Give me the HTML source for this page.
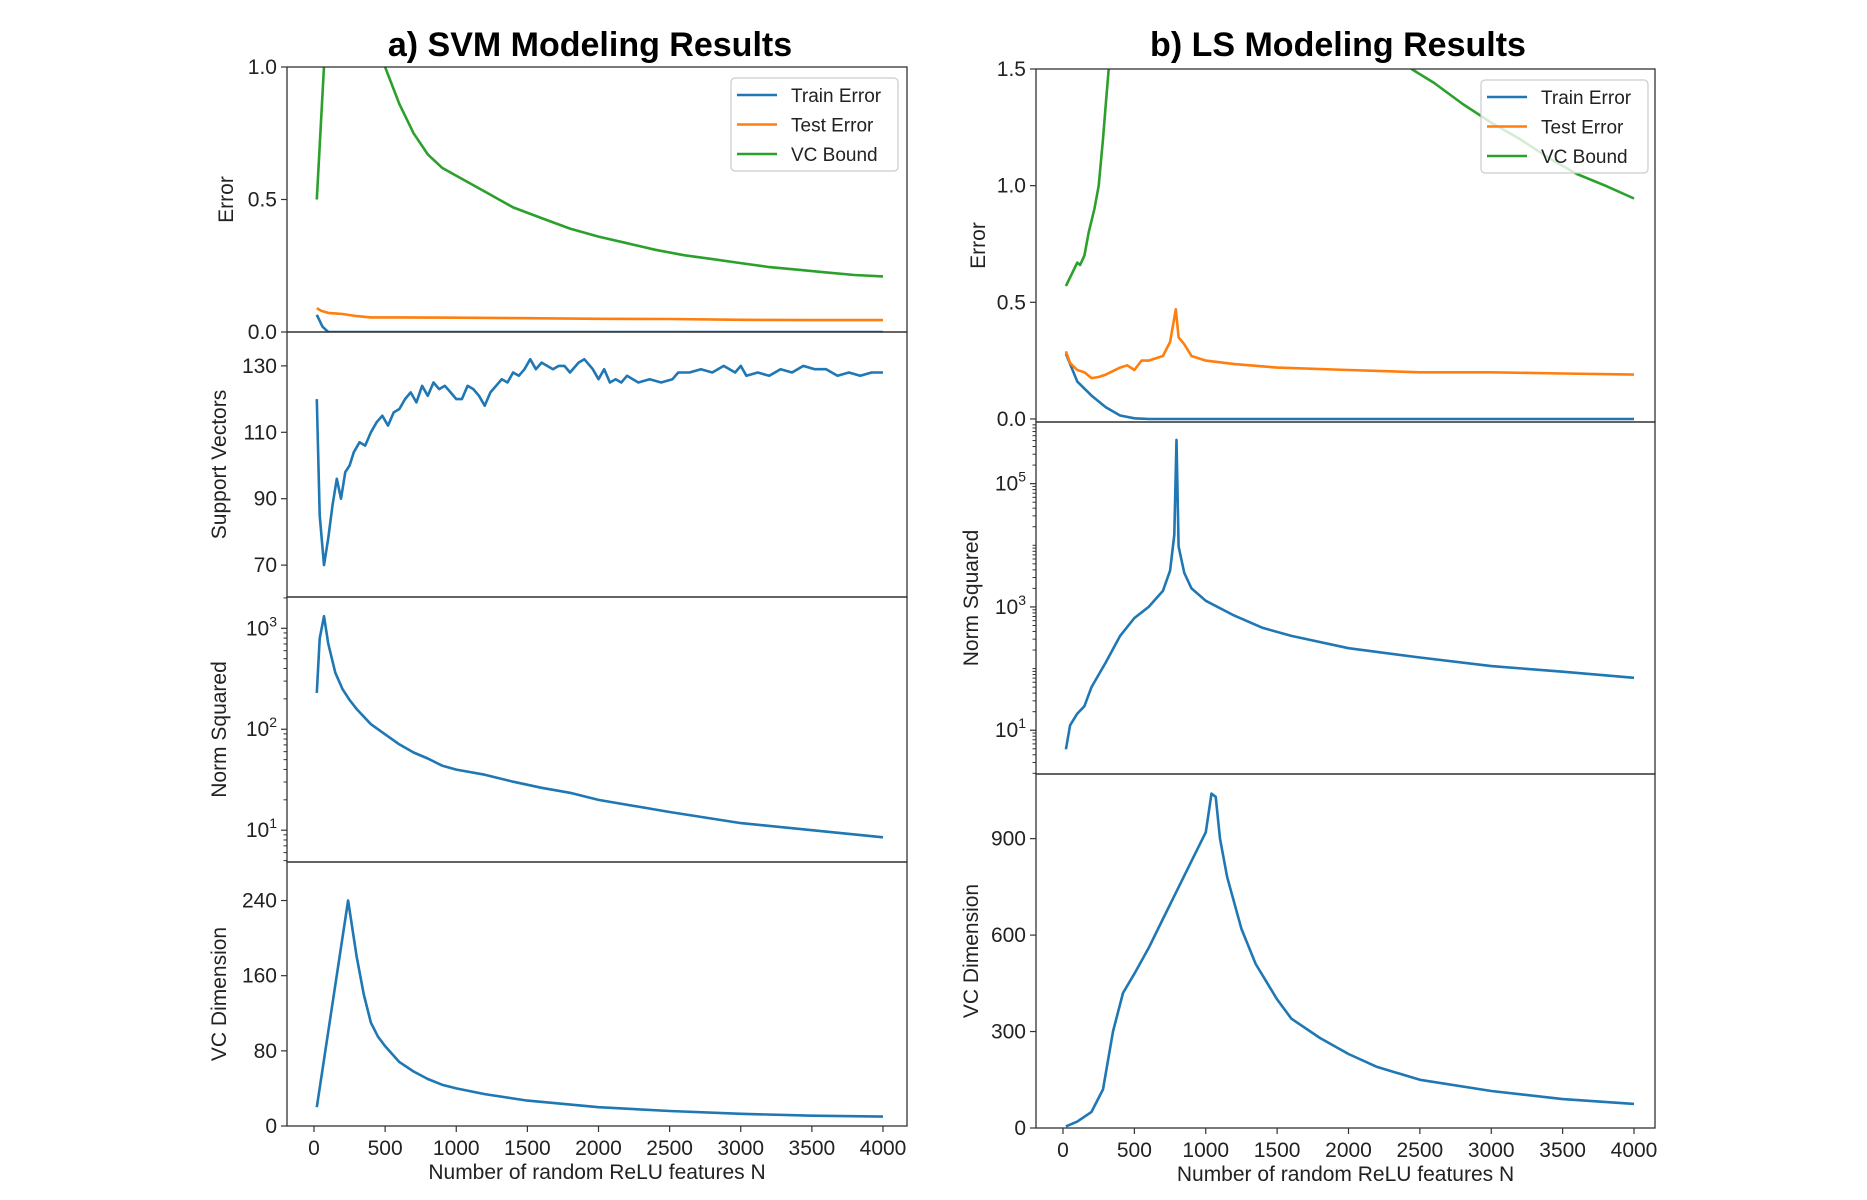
<!DOCTYPE html>
<html><head><meta charset="utf-8"><style>
html,body{margin:0;padding:0;background:#fff;}
svg{display:block;font-family:"Liberation Sans","DejaVu Sans",sans-serif;}
</style></head><body>
<svg id="fig" width="1867" height="1200" viewBox="0 0 1867 1200" xmlns="http://www.w3.org/2000/svg">
<text x="590" y="56" font-size="34" font-weight="bold" text-anchor="middle">a) SVM Modeling Results</text>
<text x="1338" y="56" font-size="34" font-weight="bold" text-anchor="middle">b) LS Modeling Results</text>
</svg>
<script>
// ---------- data ----------
const svmVcBoundN = [20,80,480,500,600,700,800,900,1000,1200,1400,1600,1800,2000,2200,2400,2600,2800,3000,3200,3400,3600,3800,4000];
const svmVcBound = [0.5,1.1,1.05,1.0,0.86,0.75,0.67,0.62,0.59,0.53,0.47,0.43,0.39,0.36,0.335,0.31,0.29,0.275,0.26,0.245,0.235,0.225,0.215,0.21];
const svmTestN = [20,50,100,150,200,300,400,600,1000,1500,2000,2500,3000,3500,4000];
const svmTest = [0.09,0.08,0.072,0.07,0.068,0.06,0.055,0.055,0.054,0.052,0.05,0.049,0.046,0.045,0.045];
const svmTrainN = [20,60,100,4000];
const svmTrain = [0.065,0.02,0.0,0.0];
const svmSvN = [20,40,70,100,130,160,190,220,250,280,320,360,400,440,480,520,560,600,640,680,720,760,800,840,880,920,960,1000,1040,1080,1120,1160,1200,1240,1280,1320,1360,1400,1440,1480,1520,1560,1600,1680,1720,1760,1800,1860,1900,1960,2000,2040,2080,2120,2160,2200,2280,2360,2440,2520,2560,2640,2720,2800,2880,2960,3000,3040,3120,3200,3280,3360,3440,3520,3600,3680,3760,3840,3920,4000];
const svmSv = [120,85,70,78,88,96,90,98,100,104,107,106,110,113,115,112,116,117,120,122,119,124,121,125,123,124,122,120,120,124,123,121,118,122,124,126,125,128,127,129,132,129,131,129,130,130,128,131,132,129,126,129,125,126,125,127,125,126,125,126,128,128,129,128,130,128,130,127,128,127,129,128,130,129,129,127,128,127,128,128];
const svmNormN = [20,40,70,100,150,200,250,300,400,500,600,700,800,900,1000,1200,1400,1600,1800,2000,2500,3000,3500,4000];
const svmNormLog = [2.36,2.9,3.12,2.85,2.56,2.4,2.29,2.2,2.05,1.95,1.85,1.77,1.71,1.64,1.6,1.55,1.48,1.42,1.37,1.3,1.18,1.07,1.0,0.93];
const svmVcN = [20,240,300,350,400,450,500,600,700,800,900,1000,1200,1500,2000,2500,3000,3500,4000];
const svmVc = [20,240,180,140,110,95,85,68,58,50,44,40,34,27,20,16,13,11,10];

const lsVcBoundN = [20,60,100,120,150,180,220,250,280,300,320,340,2300,2441,2600,2800,3000,3200,3400,3600,3800,4000];
const lsVcBound = [0.57,0.62,0.67,0.66,0.7,0.8,0.9,1.0,1.2,1.35,1.5,1.7,1.6,1.5,1.44,1.35,1.27,1.2,1.12,1.05,1.0,0.945];
const lsTestN = [20,50,100,150,200,250,300,400,450,500,550,600,700,750,790,810,850,900,1000,1200,1500,2000,2500,3000,3500,4000];
const lsTest = [0.29,0.24,0.21,0.2,0.175,0.18,0.19,0.22,0.23,0.21,0.25,0.25,0.27,0.33,0.47,0.35,0.32,0.27,0.25,0.235,0.22,0.21,0.2,0.2,0.195,0.19];
const lsTrainN = [20,100,200,300,400,500,600,4000];
const lsTrain = [0.28,0.16,0.1,0.05,0.015,0.003,0.0,0.0];
const lsNormN = [20,50,100,150,200,300,400,500,600,700,750,780,795,810,850,900,1000,1200,1400,1600,2000,2500,3000,3500,4000];
const lsNormLog = [0.69,1.08,1.27,1.39,1.7,2.1,2.53,2.82,3.0,3.26,3.59,4.17,5.71,3.98,3.55,3.3,3.1,2.86,2.66,2.53,2.33,2.18,2.04,1.95,1.85];
const lsVcN = [20,100,200,280,350,420,500,600,700,800,900,1000,1040,1070,1100,1150,1250,1350,1500,1600,1800,2000,2200,2500,3000,3500,4000];
const lsVc = [5,20,50,120,300,420,480,560,650,740,830,920,1040,1030,900,780,620,510,400,340,280,230,190,150,115,90,75];

const xTicks = [0,500,1000,1500,2000,2500,3000,3500,4000];

// ---------- helpers ----------
const NS = 'http://www.w3.org/2000/svg';
const svg = document.getElementById('fig');
const BLUE='#1f77b4', ORANGE='#ff7f0e', GREEN='#2ca02c';
function mk(tag, attrs, parent){const e=document.createElementNS(NS,tag);for(const k in attrs)e.setAttribute(k,attrs[k]);(parent||svg).appendChild(e);return e;}
let clipId=0;
function panel(opt){
  const g=mk('g',{});
  
  
  const L=opt.x0,R=opt.x1,T=opt.y0,B=opt.y1;
  const xs=v=>opt.px0+v/4000*(opt.px4000-opt.px0);
  const ys=v=>B-(v-opt.ymin)/(opt.ymax-opt.ymin)*(B-T);
  const id='c'+(clipId++);
  const cp=mk('clipPath',{id:id},g); mk('rect',{x:L,y:T,width:R-L,height:B-T},cp);
  opt.series.forEach(s=>{
    let d='';
    s.x.forEach((xv,i)=>{d+=(i?'L':'M')+xs(xv).toFixed(1)+','+ys(s.y[i]).toFixed(1);});
    const p=mk('path',{d:d,fill:'none',stroke:s.c,'stroke-width':2.6,'stroke-linejoin':'round','clip-path':'url(#'+id+')'},g);
    
    
  });
  const fr=mk('rect',{x:L,y:T,width:R-L,height:B-T,fill:'none',stroke:'#333','stroke-width':1.3},g);
  
  
  opt.yt.forEach(t=>{
    const y=ys(t.v);
    mk('line',{x1:L-6,x2:L,y1:y,y2:y,stroke:'#333','stroke-width':1.2},g);
    const tx=mk('text',{x:L-10,y:y+7,'font-size':21,'text-anchor':'end',fill:'#222'},g);
    
    
    if(t.e!==undefined){tx.textContent='10';const sp=mk('tspan',{dy:-9,'font-size':14},tx);sp.textContent=t.e;}
    else tx.textContent=t.l;
  });
  if(opt.minor){opt.minor.forEach(v=>{const y=ys(v);if(y>T&&y<B)mk('line',{x1:L-3.5,x2:L,y1:y,y2:y,stroke:'#333','stroke-width':1},g);});}
  if(opt.xt){
    xTicks.forEach(v=>{const x=xs(v);mk('line',{x1:x,x2:x,y1:B,y2:B+6,stroke:'#333','stroke-width':1.2},g);
      const tx=mk('text',{x:x,y:B+29,'font-size':21,'text-anchor':'middle',fill:'#222'},g);
      
      
      tx.textContent=v;});
    const xl=mk('text',{x:(L+R)/2,y:B+53,'font-size':21,'text-anchor':'middle',fill:'#222'},g);
    
    
    xl.textContent='Number of random ReLU features N';
  }
  const yl=mk('text',{x:0,y:0,'font-size':21,'text-anchor':'middle',fill:'#222',transform:'translate('+opt.ylx+','+(T+B)/2+') rotate(-90)'},g);
  
  
  yl.textContent=opt.ylabel;
  return g;
}
function minorLog(a,b){const r=[];for(let e=a;e<=b;e++)for(let k=2;k<=9;k++)r.push(e+Math.log10(k));return r;}
function legend(x,y,name){
  const g=mk('g',{});
  
  
  mk('rect',{x:x,y:y,width:167,height:93,rx:4,fill:'rgba(255,255,255,0.8)',stroke:'#ccc','stroke-width':1.2},g);
  [['Train Error',BLUE],['Test Error',ORANGE],['VC Bound',GREEN]].forEach((e,i)=>{
    const yy=y+17+i*29.5;
    mk('line',{x1:x+6,x2:x+46,y1:yy,y2:yy,stroke:e[1],'stroke-width':2.6},g);
    const t=mk('text',{x:x+60,y:yy+7,'font-size':19,fill:'#222'},g);
    
    
    t.textContent=e[0];
  });
}
// ---------- left column ----------
const LX0=287,LX1=907, LP0=314, LP4=883;
panel({name:'svm-error-panel',x0:LX0,x1:LX1,px0:LP0,px4000:LP4,y0:67,y1:332,ymin:0,ymax:1,ylx:233,ylabel:'Error',
  yt:[{v:0,l:'0.0'},{v:0.5,l:'0.5'},{v:1,l:'1.0'}],
  series:[{x:svmTrainN,y:svmTrain,c:BLUE,n:'svm-train-error-line'},{x:svmTestN,y:svmTest,c:ORANGE,n:'svm-test-error-line'},{x:svmVcBoundN,y:svmVcBound,c:GREEN,n:'svm-vc-bound-line'}]});
panel({name:'svm-support-vectors-panel',x0:LX0,x1:LX1,px0:LP0,px4000:LP4,y0:332,y1:597,ymin:60.4,ymax:140.2,ylx:226,ylabel:'Support Vectors',
  yt:[{v:70,l:'70'},{v:90,l:'90'},{v:110,l:'110'},{v:130,l:'130'}],
  series:[{x:svmSvN,y:svmSv,c:BLUE,n:'svm-support-vectors-line'}]});
panel({name:'svm-norm-panel',x0:LX0,x1:LX1,px0:LP0,px4000:LP4,y0:597,y1:862,ymin:0.685,ymax:3.31,ylx:226,ylabel:'Norm Squared',
  yt:[{v:1,e:'1'},{v:2,e:'2'},{v:3,e:'3'}],minor:minorLog(0,3),
  series:[{x:svmNormN,y:svmNormLog,c:BLUE,n:'svm-norm-line'}]});
panel({name:'svm-vc-dimension-panel',x0:LX0,x1:LX1,px0:LP0,px4000:LP4,y0:862,y1:1126,ymin:0,ymax:281,ylx:226,ylabel:'VC Dimension',xt:true,
  yt:[{v:0,l:'0'},{v:80,l:'80'},{v:160,l:'160'},{v:240,l:'240'}],
  series:[{x:svmVcN,y:svmVc,c:BLUE,n:'svm-vc-dimension-line'}]});
legend(731,78,'svm-legend');
// ---------- right column ----------
const RX0=1036,RX1=1655, RP0=1063, RP4=1634;
panel({name:'ls-error-panel',x0:RX0,x1:RX1,px0:RP0,px4000:RP4,y0:69,y1:422,ymin:-0.013,ymax:1.5,ylx:985,ylabel:'Error',
  yt:[{v:0,l:'0.0'},{v:0.5,l:'0.5'},{v:1,l:'1.0'},{v:1.5,l:'1.5'}],
  series:[{x:lsTrainN,y:lsTrain,c:BLUE,n:'ls-train-error-line'},{x:lsTestN,y:lsTest,c:ORANGE,n:'ls-test-error-line'},{x:lsVcBoundN,y:lsVcBound,c:GREEN,n:'ls-vc-bound-line'}]});
panel({name:'ls-norm-panel',x0:RX0,x1:RX1,px0:RP0,px4000:RP4,y0:422,y1:774,ymin:0.29,ymax:6.0,ylx:978,ylabel:'Norm Squared',
  yt:[{v:1,e:'1'},{v:3,e:'3'},{v:5,e:'5'}],minor:minorLog(0,6).concat([0,2,4,6]),
  series:[{x:lsNormN,y:lsNormLog,c:BLUE,n:'ls-norm-line'}]});
panel({name:'ls-vc-dimension-panel',x0:RX0,x1:RX1,px0:RP0,px4000:RP4,y0:774,y1:1128,ymin:0,ymax:1101,ylx:978,ylabel:'VC Dimension',xt:true,
  yt:[{v:0,l:'0'},{v:300,l:'300'},{v:600,l:'600'},{v:900,l:'900'}],
  series:[{x:lsVcN,y:lsVc,c:BLUE,n:'ls-vc-dimension-line'}]});
legend(1481,80,'ls-legend');
</script>
</body></html>
